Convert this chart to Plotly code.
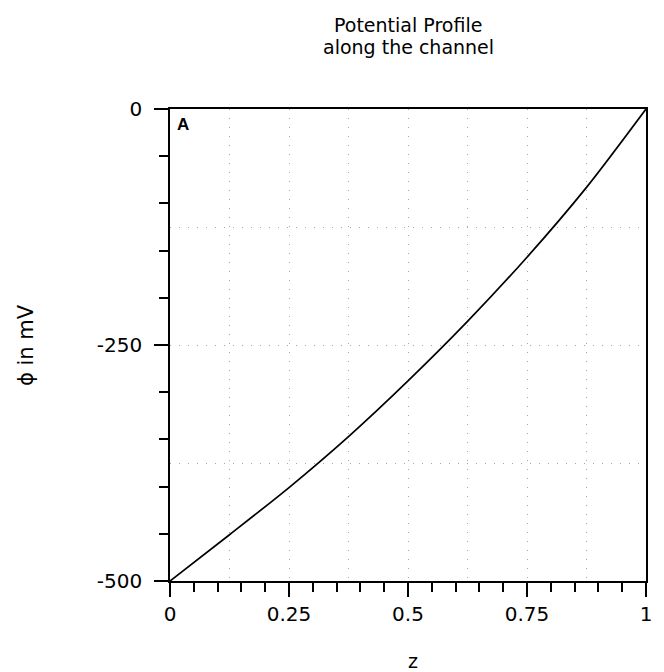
import plotly.graph_objects as go

# Potential along the channel (normalised position z, potential in mV)
z_pos = [0, 0.125, 0.25, 0.375, 0.5, 0.625, 0.75, 0.875, 1]
phi_mv = [-500, -451, -401, -347, -288, -225, -157, -83, 0]

x_tick_vals = [0, 0.25, 0.5, 0.75, 1]
x_tick_text = ["0", "0.25", "0.5", "0.75", "1"]
y_tick_vals = [0, -250, -500]
y_tick_text = ["0", "-250", "-500"]

title_lines = ["Potential Profile", "along the channel"]

FONT = "DejaVu Sans"
W, H = 664, 672
L, R, T, B = 170, 18, 109, 91
PW, PH = W - L - R, H - T - B


def px_x(px):
    """Horizontal pixel position -> paper coordinate."""
    return (px - L) / PW


def px_y(py):
    """Vertical pixel position (from top) -> paper coordinate."""
    return (H - B - py) / PH


fig = go.Figure()

fig.add_trace(go.Scatter(
    x=z_pos, y=phi_mv, mode="lines",
    line=dict(color="black", width=1.7, shape="spline", smoothing=0.8),
    showlegend=False, hoverinfo="skip",
))

# transparent copy on the overlay axes so the dotted grid gets drawn
fig.add_trace(go.Scatter(
    x=z_pos, y=phi_mv, mode="lines", xaxis="x2", yaxis="y2",
    line=dict(color="rgba(0,0,0,0)", width=0),
    showlegend=False, hoverinfo="skip",
))

fig.update_layout(
    width=W, height=H,
    margin=dict(l=L, r=R, t=T, b=B),
    paper_bgcolor="white", plot_bgcolor="white",
    font=dict(family=FONT, color="black"),
    xaxis=dict(
        range=[0, 1], tickmode="array", tickvals=x_tick_vals, ticktext=x_tick_text,
        ticks="outside", ticklen=14, tickwidth=1.8, tickcolor="black",
        minor=dict(dtick=0.05, ticks="outside", ticklen=9, tickwidth=1.8,
                   tickcolor="black", showgrid=False),
        showgrid=False, zeroline=False,
        showline=True, linecolor="black", linewidth=1.6, mirror=True,
        tickfont=dict(family=FONT, size=20, color="black"),
        ticklabelstandoff=0,
    ),
    yaxis=dict(
        range=[-500, 0], tickmode="array", tickvals=y_tick_vals, ticktext=y_tick_text,
        ticks="outside", ticklen=14, tickwidth=1.8, tickcolor="black",
        minor=dict(dtick=50, ticks="outside", ticklen=9, tickwidth=1.8,
                   tickcolor="black", showgrid=False),
        showgrid=False, zeroline=False,
        showline=True, linecolor="black", linewidth=1.6, mirror=True,
        tickfont=dict(family=FONT, size=20, color="black"),
        ticklabelstandoff=8,
    ),
    xaxis2=dict(
        overlaying="x", anchor="y2", range=[0, 1], dtick=0.125,
        showgrid=True, gridcolor="#a8a8a8", gridwidth=1, griddash="1px,8px",
        showticklabels=False, ticks="", zeroline=False, showline=False,
        layer="below traces",
    ),
    yaxis2=dict(
        overlaying="y", anchor="x2", range=[-500, 0], dtick=125,
        showgrid=True, gridcolor="#a8a8a8", gridwidth=1, griddash="1px,8px",
        showticklabels=False, ticks="", zeroline=False, showline=False,
        layer="below traces",
    ),
)

# two-line heading centred over the plotting area
for text, py in zip(title_lines, [25, 47]):
    fig.add_annotation(
        text=text, xref="paper", yref="paper", x=0.5, y=px_y(py),
        xanchor="center", yanchor="middle", showarrow=False, borderpad=0,
        font=dict(family=FONT, size=19, color="black"),
    )

fig.add_annotation(
    text="<b>A</b>", xref="paper", yref="paper", x=px_x(183), y=px_y(124),
    xanchor="center", yanchor="middle", showarrow=False,
    font=dict(family="Liberation Sans", size=17, color="black"),
)
fig.add_annotation(
    text="z", xref="paper", yref="paper", x=px_x(413), y=px_y(661),
    xanchor="center", yanchor="middle", showarrow=False,
    font=dict(family=FONT, size=19, color="black"),
)
fig.add_annotation(
    text="\u03d5 in mV", xref="paper", yref="paper", x=px_x(26), y=0.5,
    xanchor="center", yanchor="middle", textangle=-90, showarrow=False,
    font=dict(family=FONT, size=21, color="black"),
)

fig.write_html("out.html")
